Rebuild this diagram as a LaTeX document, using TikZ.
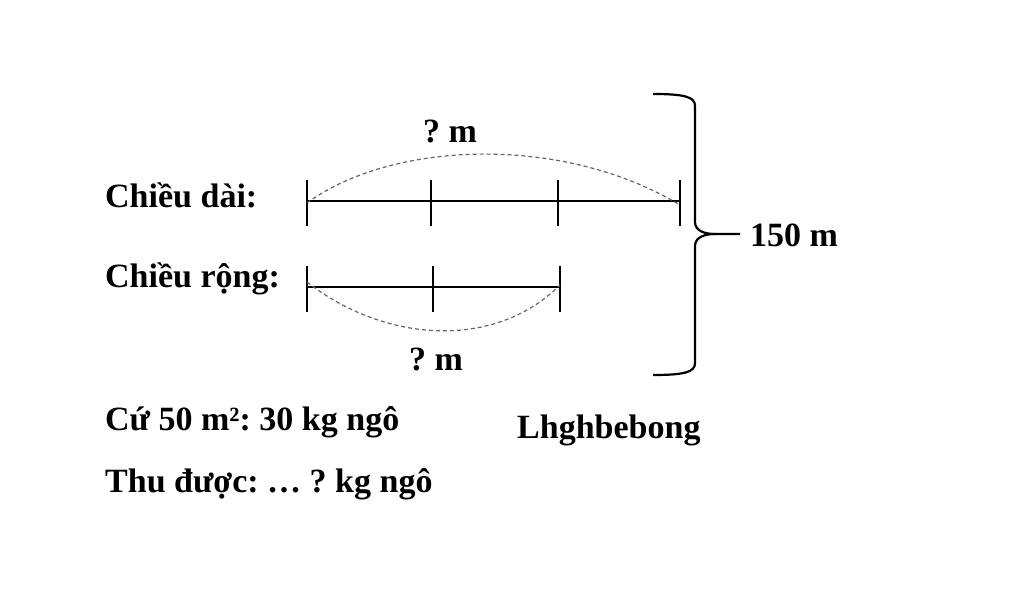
\documentclass[tikz,border=0pt]{standalone}
\usepackage{fontspec}
\setmainfont{Liberation Serif}
\frenchspacing
\begin{document}
\begin{tikzpicture}[x=1pt,y=-1pt,
  lbl/.style={inner sep=0pt,font=\fontsize{34}{36}\selectfont\bfseries},
  seg/.style={line width=2pt},
  tick/.style={line width=2.5pt},
  arc/.style={gray!80!black,line width=1.2pt,dash pattern=on 4pt off 3pt},
  brace/.style={line width=2.2pt}]
\useasboundingbox (0,0) rectangle (1024,594);
% labels
\node[lbl,anchor=base west] (dai) at (105,207) {Chiều dài:};
\node[lbl,anchor=base west] (rong) at (105,287) {Chiều rộng:};
\node[lbl,anchor=base] (qtop) at (450,142) {? m};
\node[lbl,anchor=base] (qbot) at (436,370) {? m};
\node[lbl,anchor=base west] (total) at (750,246) {150 m};
\node[lbl,anchor=base west] (cu) at (105,430) {Cứ 50 m²: 30 kg ngô};
\node[lbl,anchor=base west] (thu) at (105,492) {Thu được: … ? kg ngô};
\node[lbl,anchor=base west] (sig) at (517,438) {Lhghbebong};
% length segment
\coordinate (a0) at (307,201);
\coordinate (a1) at (431,201);
\coordinate (a2) at (558,201);
\coordinate (a3) at (680,201);
\draw[seg] (a0) -- (a3);
\foreach \p in {a0,a1,a2,a3} \draw[tick] ([yshift=-25]\p) -- ([yshift=21]\p);
\draw[arc] ([yshift=-2]a0) .. controls (390,142) and (560,133) .. ([yshift=-4]a3);
% width segment
\coordinate (b0) at (307,287);
\coordinate (b1) at (433,287);
\coordinate (b2) at (560,287);
\draw[seg] (b0) -- (b2);
\foreach \p in {b0,b1,b2} \draw[tick] ([yshift=-25]\p) -- ([yshift=21]\p);
\draw[arc] ([yshift=5]b0) .. controls (385,343) and (495,350) .. ([yshift=2]b2);
% brace
\coordinate (bt) at (653,94);
\coordinate (bb) at (653,375);
\coordinate (tip) at (740,234);
\draw[brace] (bt) .. controls (685,94) and (695,97) .. (695,106)
  -- (695,222) .. controls (695,231) and (705,234) .. (715,234) -- (tip);
\draw[brace] (bb) .. controls (685,375) and (695,372) .. (695,363)
  -- (695,246) .. controls (695,237) and (705,234) .. (715,234);
\end{tikzpicture}
\end{document}
